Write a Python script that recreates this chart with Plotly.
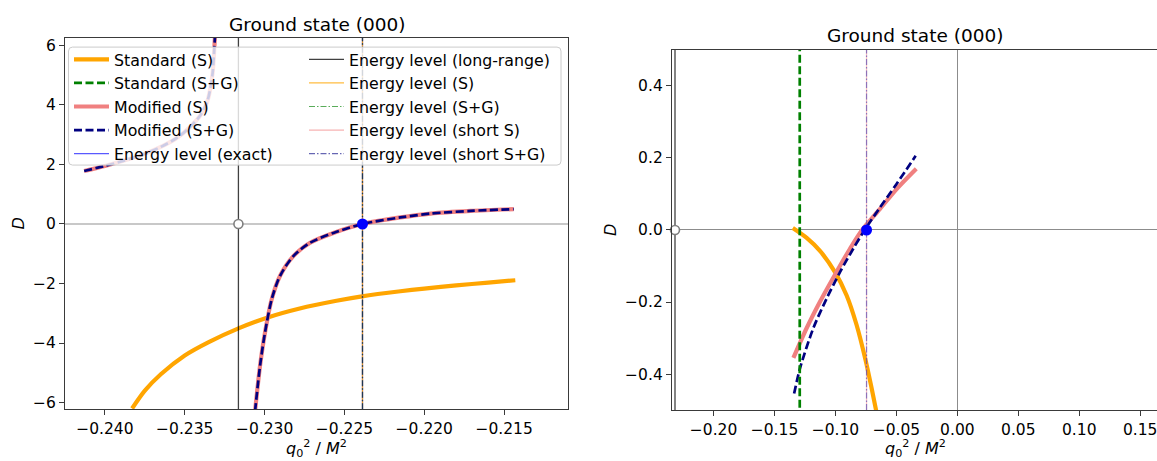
import plotly.graph_objects as go

W, H = 1157, 461

# ---------------- data ----------------
# shared energy level (long-range)
lvl_long_range = -0.23164

# left panel
left_x_range = [-0.2425, -0.2110]
left_y_range = [-6.22, 6.25]
left_x_ticks = [-0.240, -0.235, -0.230, -0.225, -0.220, -0.215]
left_y_ticks = [-6, -4, -2, 0, 2, 4, 6]
lvl_exact_left = -0.22387
lvl_s_left = -0.22387
lvl_sg_left = -0.22387
lvl_short_s_left = -0.22387
lvl_short_sg_left = -0.22387

std_s_left_x = [-0.2383, -0.2375, -0.2365, -0.2350, -0.2335, -0.2316, -0.2298,
                -0.2278, -0.2255, -0.2239, -0.2215, -0.2200, -0.2180, -0.2160, -0.2143]
std_s_left_y = [-6.20, -5.60, -5.05, -4.42, -3.97, -3.50, -3.14,
                -2.84, -2.58, -2.43, -2.26, -2.17, -2.06, -1.97, -1.89]

mod_upper_x = [-0.2413, -0.2400, -0.2388, -0.2376, -0.2365, -0.2355, -0.2347,
               -0.2340, -0.2336, -0.2334, -0.23325, -0.2331]
mod_upper_y = [1.78, 1.95, 2.13, 2.34, 2.59, 2.89, 3.24,
               3.67, 4.10, 4.55, 5.10, 6.40]
mod_lower_x = [-0.2306, -0.23028, -0.22997, -0.22955, -0.22903, -0.2282, -0.22715,
               -0.22569, -0.22387, -0.2215, -0.2196, -0.2171, -0.2144]
mod_lower_y = [-6.30, -4.74, -3.63, -2.52, -1.74, -1.08, -0.63,
               -0.30, 0.00, 0.22, 0.35, 0.44, 0.50]

# right panel
right_x_range = [-0.2341, 0.1638]
right_y_range = [-0.5, 0.5]
right_x_ticks = [-0.20, -0.15, -0.10, -0.05, 0.00, 0.05, 0.10, 0.15]
right_y_ticks = [-0.4, -0.2, 0.0, 0.2, 0.4]
lvl_short_right = -0.0745

std_s_right_x = [-0.1350, -0.1236, -0.1127, -0.1004, -0.0909, -0.0827, -0.0751, -0.0704, -0.0655]
std_s_right_y = [0.0055, -0.022, -0.058, -0.117, -0.181, -0.263, -0.364, -0.438, -0.520]

std_sg_right_x = [-0.1293, -0.1293]
std_sg_right_y = [0.55, -0.55]

mod_s_right_x = [-0.1345, -0.1236, -0.1127, -0.1004, -0.0881, -0.0786, -0.0636, -0.0500, -0.0337]
mod_s_right_y = [-0.355, -0.272, -0.199, -0.124, -0.052, -0.002, 0.058, 0.113, 0.170]

mod_sg_right_x = [-0.1339, -0.1290, -0.1181, -0.1072, -0.0963, -0.0854, -0.0772, -0.0636, -0.0500, -0.0342]
mod_sg_right_y = [-0.454, -0.383, -0.272, -0.190, -0.117, -0.052, -0.006, 0.062, 0.127, 0.206]

# ---------------- styles ----------------
FONT = "DejaVu Sans"
ORANGE = "#FFA500"
PINK = "#F08080"
NAVY = "#000080"
GREEN = "#008000"
DASH = "8px,3.5px"
DASHDOT = "6px,2px,1.5px,2px"
TICK_SIZE = 15.5
LEG_SIZE = 15.8

fig = go.Figure()


def X(px):
    return px / W


def Y(py):
    return 1 - py / H


def add(x, y, color, width, dash="solid", name=None, legend=None, rank=None,
        xa="x", ya="y", smooth=False):
    fig.add_trace(go.Scatter(
        x=x, y=y, mode="lines", xaxis=xa, yaxis=ya,
        line=dict(color=color, width=width, dash=dash,
                  shape="spline" if smooth else "linear", smoothing=0.8),
        name=name, showlegend=name is not None,
        legend=legend if legend else "legend",
        legendrank=rank if rank else 1000,
        hoverinfo="skip"))


# ---- left panel curves
mod_left_x = mod_upper_x + [None] + mod_lower_x
mod_left_y = mod_upper_y + [None] + mod_lower_y
add(std_s_left_x, std_s_left_y, ORANGE, 4.2, name="Standard (S)", legend="legend", rank=1, smooth=True)
add(mod_left_x, mod_left_y, PINK, 4.2, name="Modified (S)", legend="legend", rank=3, smooth=True)
add(mod_left_x, mod_left_y, NAVY, 2.7, dash=DASH, name="Modified (S+G)", legend="legend", rank=4, smooth=True)

# ---- left panel energy levels
ly = left_y_range
add([lvl_exact_left] * 2, ly, "rgba(0,0,255,0.65)", 1.2, name="Energy level (exact)", legend="legend", rank=5)
add([lvl_long_range] * 2, ly, "rgba(0,0,0,0.75)", 1.3, name="Energy level (long-range)", legend="legend2", rank=6)
add([lvl_short_s_left] * 2, ly, "rgba(240,128,128,0.6)", 1.2, name="Energy level (short S)", legend="legend2", rank=9)
add([lvl_s_left] * 2, ly, "rgba(255,165,0,0.75)", 1.2, name="Energy level (S)", legend="legend2", rank=7)
add([lvl_sg_left] * 2, ly, "rgba(0,128,0,0.65)", 1.2, dash=DASHDOT, name="Energy level (S+G)", legend="legend2", rank=8)
add([lvl_short_sg_left] * 2, ly, "rgba(0,0,128,0.6)", 1.2, dash=DASHDOT, name="Energy level (short S+G)", legend="legend2", rank=10)

fig.add_trace(go.Scatter(x=[lvl_long_range], y=[0], mode="markers", showlegend=False,
                         marker=dict(color="white", size=9, line=dict(color="#808080", width=1.6)),
                         cliponaxis=False, hoverinfo="skip"))
fig.add_trace(go.Scatter(x=[lvl_exact_left], y=[0], mode="markers", showlegend=False,
                         marker=dict(color="blue", size=11, line=dict(width=0)),
                         cliponaxis=False, hoverinfo="skip"))

# ---- right panel curves
add(std_s_right_x, std_s_right_y, ORANGE, 4.2, xa="x2", ya="y2", smooth=True)
add(mod_s_right_x, mod_s_right_y, PINK, 4.2, xa="x2", ya="y2", smooth=True)
add(mod_sg_right_x, mod_sg_right_y, NAVY, 2.7, dash=DASH, xa="x2", ya="y2", smooth=True)
add(std_sg_right_x, std_sg_right_y, GREEN, 2.7, dash=DASH, name="Standard (S+G)", legend="legend", rank=2,
    xa="x2", ya="y2")
ry = right_y_range
add([lvl_long_range] * 2, ry, "rgba(0,0,0,0.75)", 1.3, xa="x2", ya="y2")
add([lvl_short_right] * 2, ry, "rgba(240,128,128,0.5)", 1.2, xa="x2", ya="y2")
add([lvl_short_right] * 2, ry, "rgba(72,61,180,0.6)", 1.2, dash=DASHDOT, xa="x2", ya="y2")

fig.add_trace(go.Scatter(x=[lvl_long_range], y=[0], mode="markers", showlegend=False,
                         xaxis="x2", yaxis="y2",
                         marker=dict(color="white", size=9, line=dict(color="#808080", width=1.6)),
                         cliponaxis=False, hoverinfo="skip"))
fig.add_trace(go.Scatter(x=[lvl_short_right], y=[0], mode="markers", showlegend=False,
                         xaxis="x2", yaxis="y2",
                         marker=dict(color="blue", size=11, line=dict(width=0)),
                         cliponaxis=False, hoverinfo="skip"))

# ---------------- axes ----------------
L_x0, L_x1, L_y0, L_y1 = 65, 568, 37.3, 411.7
R_x0, R_x1, R_y0, R_y1 = 672, 1157, 49.3, 412.7

axis_common = dict(showline=True, linecolor="#3a3a3a", linewidth=1.3,
                   ticks="outside", ticklen=5, tickwidth=1.1, tickcolor="#3a3a3a",
                   showgrid=False, ticklabeloverflow="allow",
                   tickfont=dict(family=FONT, size=TICK_SIZE, color="black"))

fig.update_layout(
    width=W, height=H,
    margin=dict(l=0, r=0, t=0, b=0),
    paper_bgcolor="white", plot_bgcolor="white",
    font=dict(family=FONT, color="black"),
    xaxis=dict(domain=[X(L_x0), X(L_x1)], range=left_x_range, tickvals=left_x_ticks,
               tickformat=".3f", mirror=True, zeroline=False, anchor="y", **axis_common),
    yaxis=dict(domain=[Y(L_y1), Y(L_y0)], range=left_y_range, tickvals=left_y_ticks,
               tickformat="d", mirror=True, zeroline=True, zerolinecolor="#c8c8c8",
               zerolinewidth=1.8, anchor="x", **axis_common),
    xaxis2=dict(domain=[X(R_x0), X(R_x1)], range=right_x_range, tickvals=right_x_ticks,
                tickformat=".2f", mirror=True, zeroline=True, zerolinecolor="#8c8c8c",
                zerolinewidth=1.1, anchor="y2", **axis_common),
    yaxis2=dict(domain=[Y(R_y1), Y(R_y0)], range=right_y_range, tickvals=right_y_ticks,
                tickformat=".1f", mirror=False, zeroline=True, zerolinecolor="#8c8c8c",
                zerolinewidth=1.1, anchor="x2", **axis_common),
    legend=dict(x=X(69), y=Y(42), xanchor="left", yanchor="top",
                bgcolor="rgba(0,0,0,0)", borderwidth=0, itemwidth=35,
                tracegroupgap=0, font=dict(family=FONT, size=LEG_SIZE, color="black")),
    legend2=dict(x=X(304), y=Y(42), xanchor="left", yanchor="top",
                 bgcolor="rgba(0,0,0,0)", borderwidth=0, itemwidth=35,
                 tracegroupgap=0, font=dict(family=FONT, size=LEG_SIZE, color="black")),
    showlegend=True,
)


# legend frame (semi-transparent, rounded)
def rrect(x0, y0, x1, y1, r):
    return (f"M {X(x0 + r)},{Y(y0)} L {X(x1 - r)},{Y(y0)} Q {X(x1)},{Y(y0)} {X(x1)},{Y(y0 + r)} "
            f"L {X(x1)},{Y(y1 - r)} Q {X(x1)},{Y(y1)} {X(x1 - r)},{Y(y1)} "
            f"L {X(x0 + r)},{Y(y1)} Q {X(x0)},{Y(y1)} {X(x0)},{Y(y1 - r)} "
            f"L {X(x0)},{Y(y0 + r)} Q {X(x0)},{Y(y0)} {X(x0 + r)},{Y(y0)} Z")


fig.add_shape(type="path", path=rrect(68.5, 46.5, 561, 165.5, 4), xref="paper", yref="paper",
              fillcolor="rgba(255,255,255,0.8)", line=dict(color="#cccccc", width=1), layer="above")

# titles and axis labels
XLAB = "<i>q</i><sub>0</sub><sup>2</sup> / <i>M</i><sup>2</sup>"
ann = [
    dict(text="Ground state (000)", x=X((L_x0 + L_x1) / 2), y=Y(24), size=18.5, angle=0),
    dict(text="Ground state (000)", x=X(915), y=Y(34.5), size=18.5, angle=0),
    dict(text=XLAB, x=X((L_x0 + L_x1) / 2), y=Y(451), size=16, angle=0),
    dict(text=XLAB, x=X(915), y=Y(451), size=16, angle=0),
    dict(text="<i>D</i>", x=X(19), y=Y(224.5), size=16, angle=-90),
    dict(text="<i>D</i>", x=X(611), y=Y(231), size=16, angle=-90),
]
for a in ann:
    fig.add_annotation(text=a["text"], x=a["x"], y=a["y"], xref="paper", yref="paper",
                       xanchor="center", yanchor="middle", showarrow=False, textangle=a["angle"],
                       font=dict(family=FONT, size=a["size"], color="black"))

fig.write_html("out.html")
